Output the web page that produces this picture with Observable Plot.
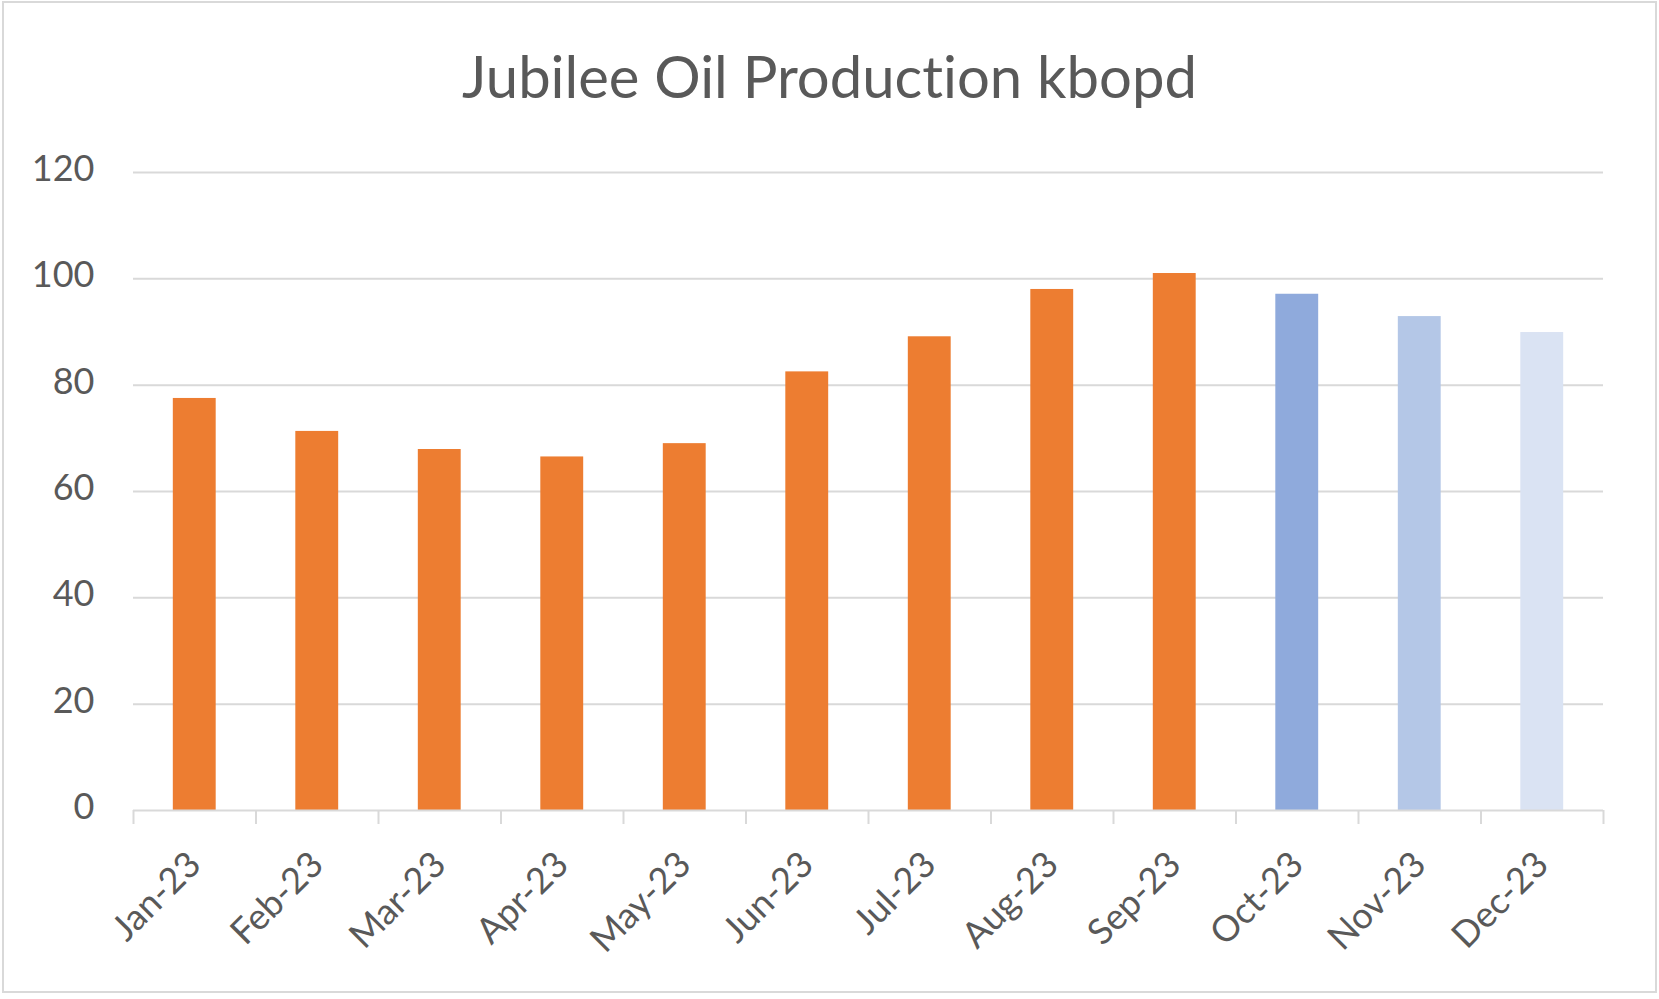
<!DOCTYPE html>
<html>
<head>
<meta charset="utf-8">
<script src="https://cdn.jsdelivr.net/npm/d3@7"></script>
<script src="https://cdn.jsdelivr.net/npm/@observablehq/plot@0.6"></script>
<style>
  html, body { margin: 0; padding: 0; background: #fff; }
  #chart { position: relative; width: 1659px; height: 999px; overflow: hidden; background: #fff; }
  #frame { position: absolute; left: 2px; top: 1px; width: 1655px; height: 992px; border: 2px solid #d9d9d9; box-sizing: border-box; }
  #title { position: absolute; left: 0; top: 47px; width: 1659px; text-align: center; font-family: Lato, "Open Sans", sans-serif; font-size: 58px; line-height: 58px; color: #595959; white-space: nowrap; font-variant-ligatures: none; font-feature-settings: "liga" 0, "clig" 0; }
  #plot { position: absolute; left: 0; top: 120px; }
  #plot svg text { font-variant-ligatures: none; }
</style>
</head>
<body>
<div id="chart">
  <div id="frame"></div>
  <div id="title">Jubilee Oil Production kbopd</div>
  <div id="plot"></div>
</div>
<script>
const months = ["Jan-23", "Feb-23", "Mar-23", "Apr-23", "May-23", "Jun-23", "Jul-23", "Aug-23", "Sep-23", "Oct-23", "Nov-23", "Dec-23"];
const production = [77.5, 71.3, 67.9, 66.5, 69.0, 82.5, 89.1, 98.0, 101.0, 97.1, 92.9, 89.9];
const yTicks = [0, 20, 40, 60, 80, 100, 120];

const rows = months.map((m, i) => ({month: m, value: production[i]}));

const W = 1659, H = 879, mL = 133, mR = 56, mT = 52, mB = 189;
const step = (W - mL - mR) / months.length;
const barColors = ["#ED7D31", "#ED7D31", "#ED7D31", "#ED7D31", "#ED7D31", "#ED7D31", "#ED7D31", "#ED7D31", "#ED7D31", "#8FAADC", "#B4C7E7", "#DAE3F3"];
const lineColor = "#d9d9d9";
const textColor = "#595959";

const chart = Plot.plot({
  width: W, height: H,
  marginLeft: mL, marginRight: mR, marginTop: mT, marginBottom: mB,
  style: {fontFamily: "Lato, 'Open Sans', sans-serif", fontSize: "36px", color: textColor, background: "transparent", overflow: "visible"},
  x: {domain: months, paddingInner: 0.65, paddingOuter: 0.325, round: false, axis: null, label: null},
  y: {domain: [0, 120], axis: null, label: null},
  color: {domain: months, range: barColors},
  marks: [
    Plot.gridY(yTicks.filter(t => t > 0), {stroke: lineColor, strokeOpacity: 1, strokeWidth: 2}),
    Plot.axisY(yTicks, {tickSize: 0, tickPadding: 39, fill: textColor, fontSize: 36, dy: -3, label: null}),
    Plot.barY(rows, {x: "month", y: "value", fill: "month"}),
    Plot.ruleY([0], {stroke: lineColor, strokeWidth: 2}),
    Plot.ruleX(months, {x: d => d, y1: 0, y2: 0, insetBottom: -14, dx: -step / 2, stroke: lineColor, strokeWidth: 2}),
    Plot.ruleX([months[months.length - 1]], {x: d => d, y1: 0, y2: 0, insetBottom: -14, dx: step / 2, stroke: lineColor, strokeWidth: 2}),
    Plot.axisX(months, {tickRotate: -45, tickSize: 0, tickPadding: 48, fill: textColor, fontSize: 36, label: null})
  ]
});
document.getElementById("plot").appendChild(chart);
</script>
</body>
</html>
